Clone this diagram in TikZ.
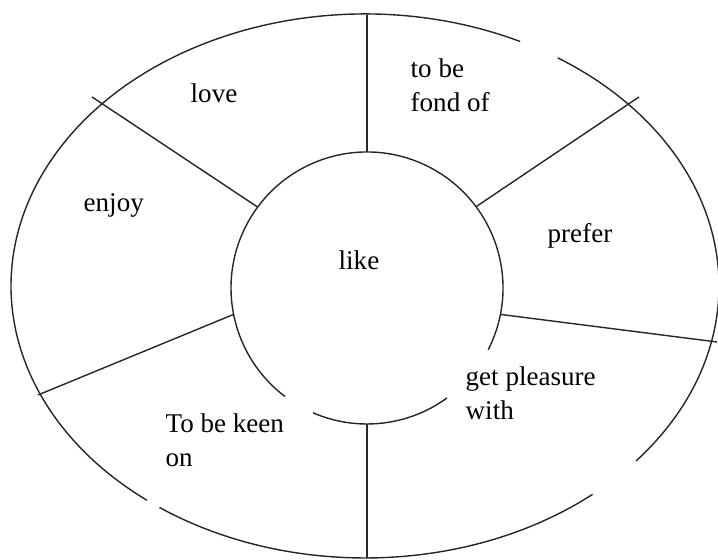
\documentclass[tikz,border=0pt]{standalone}
\usepackage{fontspec}
\setmainfont{Liberation Serif}
\begin{document}
\begin{tikzpicture}[x=0.02cm, y=0.02cm, line width=0.8pt,
    every node/.style={font=\fontsize{15.4}{19.9}\selectfont, inner sep=0pt, anchor=base west, align=left}]

    \useasboundingbox (0, 0) rectangle (718, 560);

    % centres
    \coordinate (o) at (365, 274);
    \coordinate (c) at (367, 272);

    % outer ellipse (three gaps)
    \draw[black!85] (o) ++(64:354 and 272) arc[start angle=64, end angle=232, x radius=354, y radius=272];
    \draw[black!85] (o) ++(234.5:354 and 272) arc[start angle=234.5, end angle=310, x radius=354, y radius=272];
    \draw[black!85] (o) ++(320:354 and 272) arc[start angle=320, end angle=417, x radius=354, y radius=272];

    % inner circle (two gaps)
    \draw[black!85] (c) ++(246.6:136) arc[start angle=246.6, end angle=306, radius=136];
    \draw[black!85] (c) ++(333:136) arc[start angle=333, end angle=593, radius=136];

    % spokes
    \draw[black!85] (c) ++(90:136) -- (367, 545);
    \draw[black!85] (c) ++(143.5:136) -- (92, 463);
    \draw[black!85] (c) ++(36.7:136) -- (639, 463);
    \draw[black!85] (c) ++(-11.2:136) -- (717, 218);
    \draw[black!85] (c) ++(191.2:136) -- (38, 165);
    \draw[black!85] (c) ++(270:136) -- (367, 2);

    % words (multi-line nodes sit on their last line)
    \node (like) at (338, 290) {like};
    \node (love) at (190, 457) {love};
    \node (fond) at (410, 448) {to be\\fond of};
    \node (enjoy) at (83, 348) {enjoy};
    \node (prefer) at (547, 317) {prefer};
    \node (pleasure) at (465, 140) {get pleasure\\with};
    \node (keen) at (165, 93) {To be keen\\on};

\end{tikzpicture}
\end{document}
